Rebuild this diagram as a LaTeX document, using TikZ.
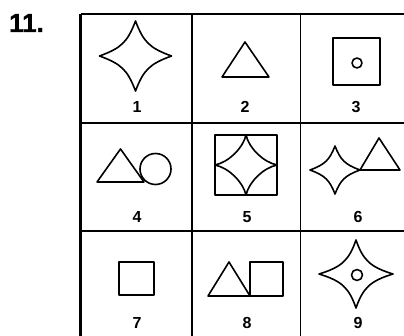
\documentclass[tikz,border=0pt]{standalone}
\usepackage{fontspec}
\setmainfont{Liberation Sans}
\newfontfamily\heavyfont[FakeBold=1.2]{Liberation Sans Bold}
% #1 centre, #2 half width, #3 half height, #4 axial control, #5 lateral control
\newcommand\fstar[5]{%
  \draw[shp, shift={#1}] (0,-#3) .. controls (-#5,-#4) and (-#4,-#5) .. (-#2,0)
    .. controls (-#4,#5) and (-#5,#4) .. (0,#3)
    .. controls (#5,#4) and (#4,#5) .. (#2,0)
    .. controls (#4,-#5) and (#5,-#4) .. cycle;}
\begin{document}
\begin{tikzpicture}[x=1pt,y=-1pt,
  shp/.style={line width=1.6pt, line join=round},
  gridline/.style={line width=1.8pt},
  lab/.style={font=\fontsize{16}{16}\bfseries\selectfont, inner sep=0pt}]
\useasboundingbox (0,0) rectangle (404,336);
\begin{scope}
  \clip (0,0) rectangle (404,336);
  \draw[gridline, line width=2.4pt] (80.5,14) -- (420,14);
  \draw[gridline, line width=2.4pt] (80.5,14) -- (80.5,350);
  \draw[gridline] (192,14) -- (192,350);
  \draw[gridline] (300.5,14) -- (300.5,350);
  \draw[gridline] (80.5,123) -- (420,123);
  \draw[gridline] (80.5,231) -- (420,231);
\end{scope}
\node[font=\fontsize{26}{26}\heavyfont, inner sep=0pt] (title) at (26.5,23) {11.};
% cell 1
\fstar{(135.5,56)}{36}{35}{14}{8}
\node[lab] (l1) at (137,107) {1};
% cell 2
\draw[shp] (245,42) -- (222,77) -- (269,77) -- cycle;
\node[lab] (l2) at (245,107) {2};
% cell 3
\draw[shp] (333,38) rectangle (380,85);
\draw[shp] (357,63) circle (5);
\node[lab] (l3) at (356,107) {3};
% cell 4
\draw[shp] (120.5,149) -- (97,182) -- (144,182) -- cycle;
\draw[shp] (155.5,169) circle (15.5);
\node[lab] (l4) at (137,217) {4};
% cell 5
\draw[shp] (215,135) rectangle (277,195);
\fstar{(246,165)}{31}{30}{17}{3}
\node[lab] (l5) at (247,217) {5};
% cell 6
\fstar{(335,170)}{25}{24}{10}{5.5}
\draw[shp] (379,138) -- (360,170) -- (400,170) -- cycle;
\node[lab] (l6) at (358,217) {6};
% cell 7
\draw[shp] (119,262) rectangle (154,295);
\node[lab] (l7) at (137,323) {7};
% cell 8
\draw[shp] (229,262) -- (208,296) -- (250,296) -- cycle;
\draw[shp] (250,262) rectangle (283,296);
\node[lab] (l8) at (247,323) {8};
% cell 9
\fstar{(356,274)}{37}{34}{14}{7}
\draw[shp] (357,275) circle (5.5);
\node[lab] (l9) at (358,323) {9};
\end{tikzpicture}
\end{document}
